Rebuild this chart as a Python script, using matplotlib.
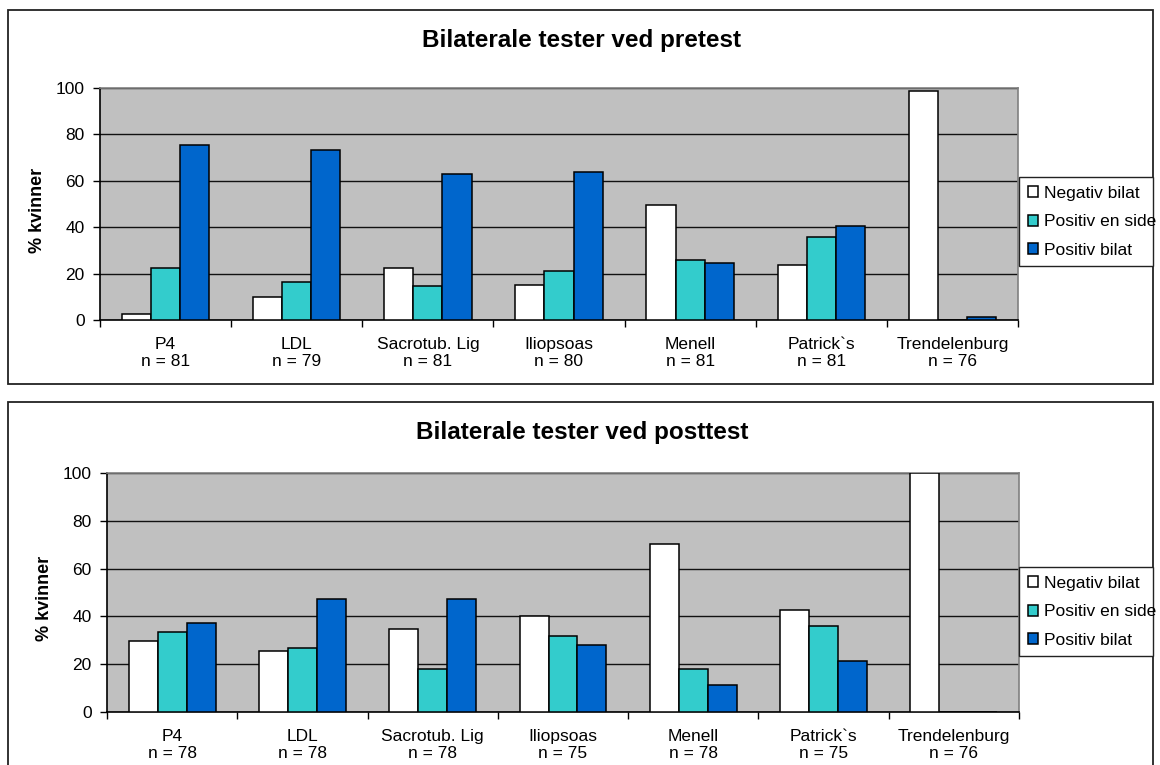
import matplotlib
matplotlib.use("Agg")
import matplotlib.pyplot as plt
from matplotlib.patches import Rectangle
import numpy as np

plt.rcParams['font.family'] = ['Liberation Sans', 'DejaVu Sans']

# Tests and sample sizes
tests = ["P4", "LDL", "Sacrotub. Lig", "Iliopsoas", "Menell", "Patrick`s", "Trendelenburg"]
n_pre = [81, 79, 81, 80, 81, 81, 76]
n_post = [78, 78, 78, 75, 78, 75, 76]

series_names = ["Negativ bilat", "Positiv en side", "Positiv bilat"]

# Percent of women per outcome, pretest
pre_negativ = [2.5, 10.1, 22.2, 15.0, 49.4, 23.5, 98.7]
pre_en_side = [22.2, 16.5, 14.8, 21.3, 25.9, 35.8, 0.0]
pre_bilat = [75.3, 73.4, 63.0, 63.8, 24.7, 40.7, 1.3]

# Percent of women per outcome, posttest
post_negativ = [29.5, 25.6, 34.6, 40.0, 70.5, 42.7, 100.0]
post_en_side = [33.3, 26.9, 17.9, 32.0, 17.9, 36.0, 0.0]
post_bilat = [37.2, 47.4, 47.4, 28.0, 11.5, 21.3, 0.0]

colors = ["#FFFFFF", "#33CCCC", "#0066CC"]
plot_bg = "#C0C0C0"

W, H = 1160, 765


def fx(px):
    return px / W


def fy(py):
    return 1 - py / H


def draw_panel(fig, box, title, title_y, ylabel_x, series, n_values, legend_box):
    left, top, right, bottom = box
    ax = fig.add_axes([fx(left), fy(bottom), fx(right - left), (bottom - top) / H])
    ax.set_facecolor(plot_bg)

    x = np.arange(len(tests))
    width = 0.222
    for i, (vals, color, name) in enumerate(zip(series, colors, series_names)):
        ax.bar(x + (i - 1) * width, vals, width, color=color,
               edgecolor="black", linewidth=1.1, label=name, zorder=3)

    ax.set_xlim(-0.5, len(tests) - 0.5)
    ax.set_ylim(0, 100)
    ax.set_yticks(np.arange(0, 101, 20))
    ax.yaxis.grid(True, color="#111111", linewidth=1.0, zorder=0)
    ax.set_axisbelow(True)

    # Category boundaries carry the ticks, names sit at the centres
    ax.set_xticks(np.arange(-0.5, len(tests), 1.0))
    ax.set_xticklabels([])
    ax.set_xticks(x, minor=True)
    ax.set_xticklabels([f"{t}\nn = {n}" for t, n in zip(tests, n_values)],
                       minor=True, fontsize=12.5, linespacing=1.2)
    ax.tick_params(axis="x", which="major", direction="out", length=5, width=1)
    ax.tick_params(axis="x", which="minor", length=0, pad=12)
    ax.tick_params(axis="y", direction="out", length=5, width=1, pad=6, labelsize=12.5)

    for side in ("top", "right"):
        ax.spines[side].set_color("#808080")
        ax.spines[side].set_linewidth(1.2)
    for side in ("left", "bottom"):
        ax.spines[side].set_color("black")
        ax.spines[side].set_linewidth(1.2)

    ax.set_ylabel("% kvinner", fontsize=13, fontweight="bold")
    ax.yaxis.set_label_coords(fx(ylabel_x), fy((top + bottom) / 2 + 6),
                              transform=fig.transFigure)

    fig.text(fx(582), fy(title_y), title, ha="center", va="center",
             fontsize=17.5, fontweight="bold")

    lx0, ly0, lx1, ly1 = legend_box
    leg = fig.legend(*ax.get_legend_handles_labels(), loc="upper left",
                     bbox_to_anchor=(fx(lx0), fy(ly1), fx(lx1 - lx0), (ly1 - ly0) / H),
                     mode="expand", fontsize=12.5, handlelength=0.6, handleheight=0.6,
                     handletextpad=0.35, labelspacing=0.78, borderpad=0.5,
                     borderaxespad=0, fancybox=False, framealpha=1)
    leg.get_frame().set_edgecolor("#222222")
    leg.get_frame().set_linewidth(1.0)
    return ax


def main() -> None:
    fig = plt.figure(figsize=(W / 100, H / 100), dpi=100)

    # Chart frames around each panel
    fig.patches.append(Rectangle((fx(8), fy(384)), fx(1153 - 8), (384 - 10) / H,
                                 transform=fig.transFigure, fill=False,
                                 edgecolor="#222222", linewidth=1.3))
    fig.patches.append(Rectangle((fx(8), fy(775)), fx(1153 - 8), (775 - 402) / H,
                                 transform=fig.transFigure, fill=False,
                                 edgecolor="#222222", linewidth=1.3))

    draw_panel(fig, (100, 88, 1018, 320), "Bilaterale tester ved pretest", 40, 46,
               [pre_negativ, pre_en_side, pre_bilat], n_pre, (1019, 177, 1153, 267))
    draw_panel(fig, (107, 473, 1019, 712), "Bilaterale tester ved posttest", 433, 53,
               [post_negativ, post_en_side, post_bilat], n_post, (1019, 567, 1153, 664))

    fig.savefig("out.png", dpi=100)
    plt.close(fig)


if __name__ == "__main__":
    main()
